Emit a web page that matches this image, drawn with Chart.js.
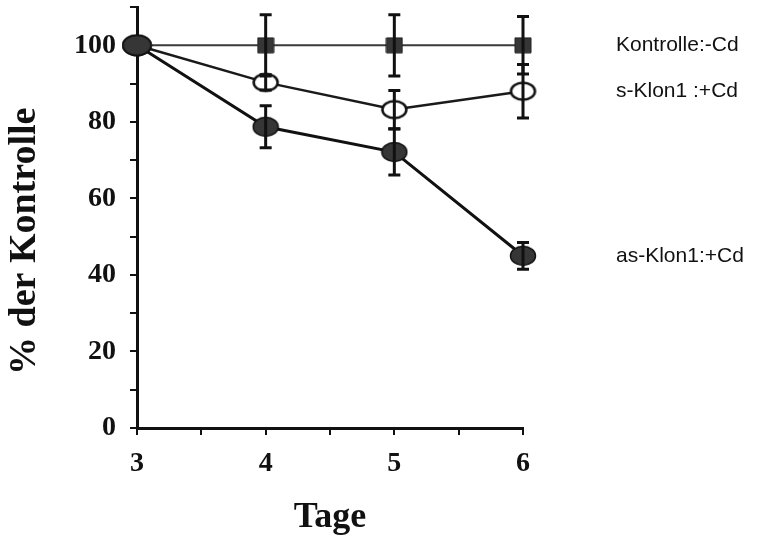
<!DOCTYPE html>
<html>
<head>
<meta charset="utf-8">
<script src="https://cdn.jsdelivr.net/npm/chart.js@4"></script>
<style>
  html, body { margin: 0; padding: 0; background: #fff; }
  #wrap { width: 784px; height: 539px; }
</style>
</head>
<body>
<div id="wrap"><canvas id="tageChart"></canvas></div>
<script>
// Werte
const tage = [3, 4, 5, 6];
const kontrolle = [100, 100, 100, 100];
const kontrolleErr = [0, 8, 8, 7.5];
const sKlon = [100, 90.3, 83.2, 88];
const sKlonErr = [0, 2, 5, 7];
const asKlon = [100, 78.7, 72.1, 45];
const asKlonErr = [0, 5.5, 6, 3.5];
const serienNamen = ['Kontrolle:-Cd', 's-Klon1 :+Cd', 'as-Klon1:+Cd'];

function marker(w, h, fill, stroke, lw, rect) {
    const c = document.createElement('canvas');
    c.width = w + lw * 2;
    c.height = h + lw * 2;
    const ctx = c.getContext('2d');
    ctx.fillStyle = fill;
    ctx.strokeStyle = stroke;
    ctx.lineWidth = lw;
    ctx.beginPath();
    if (rect) {
        ctx.rect(lw, lw, w, h);
    } else {
        ctx.ellipse(c.width / 2, c.height / 2, w / 2, h / 2, 0, 0, Math.PI * 2);
    }
    ctx.fill();
    ctx.stroke();
    return c;
}

const bigDot = marker(28, 20, '#363636', '#111', 1.5, false);
const fullDot = marker(25, 19, '#363636', '#111', 1.5, false);
const openDot = marker(24, 17, '#fff', '#111', 2.5, false);
const square = marker(16, 15, '#363636', '#222', 1, true);

const toPoints = vals => tage.map((t, i) => ({ x: t, y: vals[i] }));

const errorBars = {
    id: 'errorBars',
    afterDatasetsDraw(chart) {
        const ctx = chart.ctx;
        const yScale = chart.scales.y;
        const errs = [kontrolleErr, sKlonErr, asKlonErr];
        ctx.save();
        ctx.strokeStyle = '#111';
        ctx.lineWidth = 3;
        chart.data.datasets.forEach((ds, d) => {
            const meta = chart.getDatasetMeta(d);
            meta.data.forEach((pt, i) => {
                const e = errs[d][i];
                if (!e) return;
                const v = ds.data[i].y;
                const top = yScale.getPixelForValue(v + e);
                const bot = yScale.getPixelForValue(v - e);
                ctx.beginPath();
                ctx.moveTo(pt.x, top);
                ctx.lineTo(pt.x, bot);
                ctx.moveTo(pt.x - 6, top);
                ctx.lineTo(pt.x + 6, top);
                ctx.moveTo(pt.x - 6, bot);
                ctx.lineTo(pt.x + 6, bot);
                ctx.stroke();
            });
        });
        ctx.restore();
    }
};

const seriesLabels = {
    id: 'seriesLabels',
    afterDraw(chart) {
        const ctx = chart.ctx;
        const yScale = chart.scales.y;
        ctx.save();
        ctx.font = '21px "Liberation Sans", Arial, sans-serif';
        ctx.fillStyle = '#111';
        ctx.textBaseline = 'middle';
        chart.data.datasets.forEach((ds, d) => {
            const last = ds.data[ds.data.length - 1].y;
            ctx.fillText(serienNamen[d], 616, yScale.getPixelForValue(last));
        });
        ctx.restore();
    }
};

const serif = '"Liberation Serif", "Times New Roman", serif';

new Chart(document.getElementById('tageChart'), {
    type: 'line',
    data: {
        datasets: [
            {
                label: serienNamen[0],
                data: toPoints(kontrolle),
                borderColor: '#3a3a3a',
                borderWidth: 2,
                pointStyle: [bigDot, square, square, square]
            },
            {
                label: serienNamen[1],
                data: toPoints(sKlon),
                borderColor: '#1a1a1a',
                borderWidth: 2.5,
                pointStyle: [bigDot, openDot, openDot, openDot]
            },
            {
                label: serienNamen[2],
                data: toPoints(asKlon),
                borderColor: '#111',
                borderWidth: 3,
                pointStyle: [bigDot, fullDot, fullDot, fullDot]
            }
        ]
    },
    options: {
        responsive: true,
        maintainAspectRatio: false,
        animation: false,
        devicePixelRatio: 1,
        layout: { autoPadding: false, padding: { top: 7, right: 261, left: 0, bottom: 0 } },
        plugins: {
            legend: { display: false },
            tooltip: { enabled: false }
        },
        elements: {
            line: { tension: 0 },
            point: { radius: 10 }
        },
        clip: false,
        scales: {
            x: {
                type: 'linear',
                min: 3,
                max: 6,
                afterFit: s => {
                    s.height = 111;
                    s.paddingLeft = 0;
                    s.paddingRight = 0;
                },
                border: { color: '#111', width: 3 },
                grid: { drawOnChartArea: false, color: '#111', lineWidth: 2, tickLength: 7 },
                ticks: {
                    stepSize: 0.5,
                    color: '#111',
                    padding: 12,
                    maxRotation: 0,
                    font: { family: serif, size: 28, weight: 'bold' },
                    callback: v => Number.isInteger(v) ? v : ''
                },
                title: {
                    display: true,
                    text: 'Tage',
                    color: '#111',
                    padding: { top: 6, bottom: 0 },
                    font: { family: serif, size: 36, weight: 'bold' }
                }
            },
            y: {
                min: 0,
                max: 110,
                afterFit: s => {
                    s.width = 137;
                    s.paddingTop = 0;
                    s.paddingBottom = 0;
                },
                border: { color: '#111', width: 3 },
                grid: { drawOnChartArea: false, color: '#111', lineWidth: 2, tickLength: 7 },
                ticks: {
                    stepSize: 10,
                    color: '#111',
                    padding: 14,
                    font: { family: serif, size: 28, weight: 'bold' },
                    callback: v => (v % 20 === 0 && v <= 100) ? v : ''
                },
                title: {
                    display: true,
                    text: '% der Kontrolle     ',
                    color: '#111',
                    padding: { top: 2, bottom: 0 },
                    font: { family: serif, size: 38, weight: 'bold' }
                }
            }
        }
    },
    plugins: [errorBars, seriesLabels]
});
</script>
</body>
</html>
